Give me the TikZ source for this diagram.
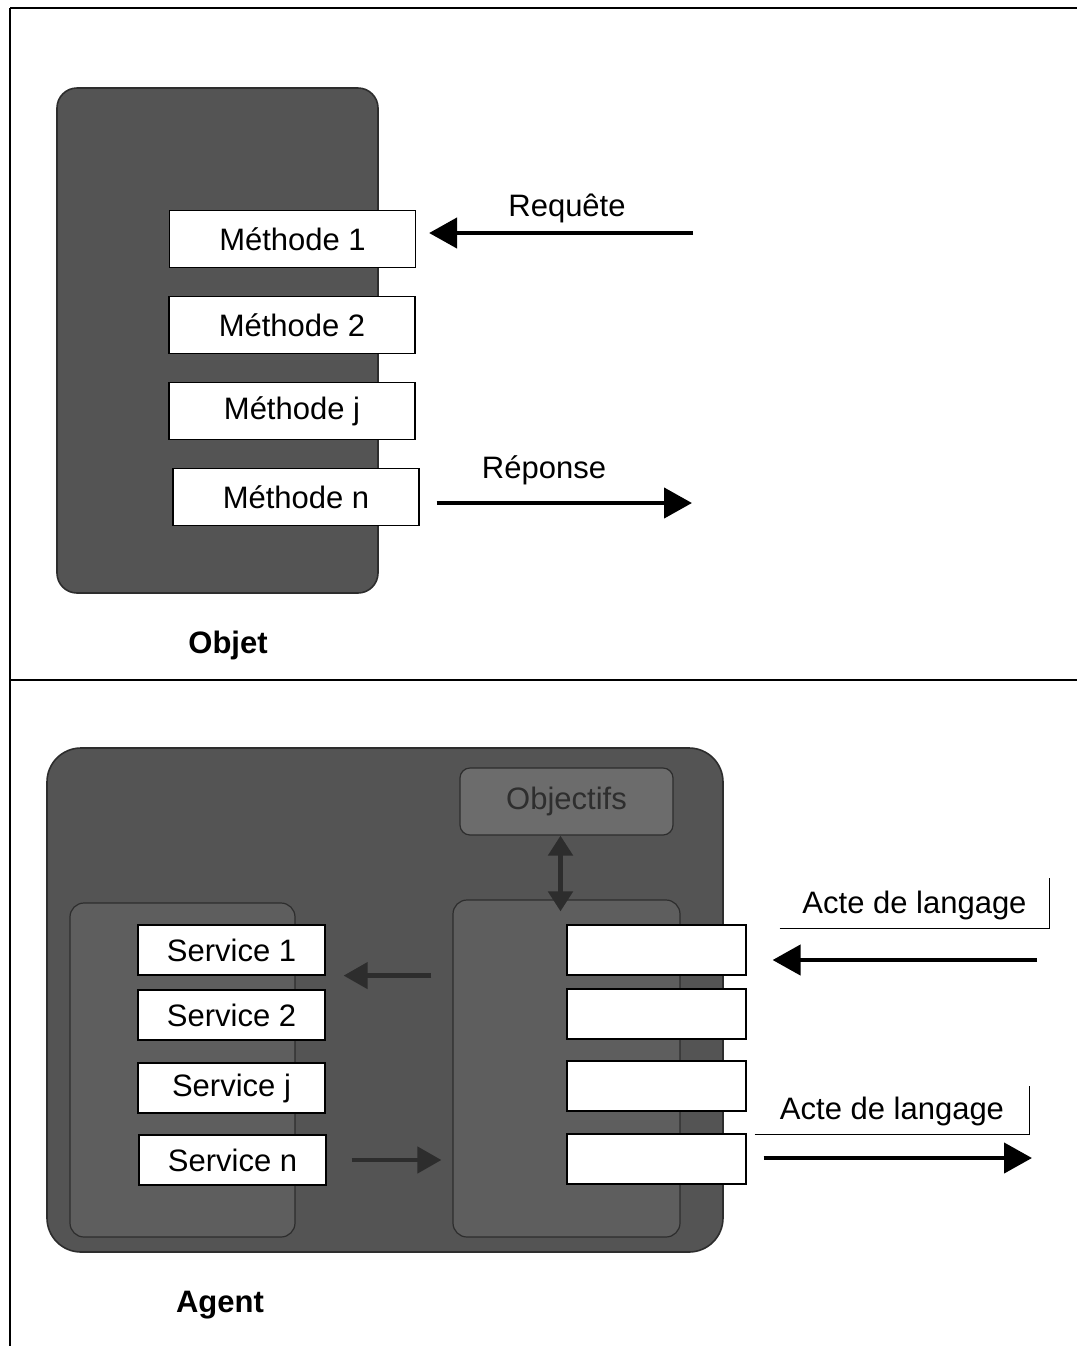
\documentclass[tikz,border=0pt]{standalone}
\usepackage{fontspec}
\setmainfont{Liberation Sans}
\usetikzlibrary{arrows.meta,positioning}

\definecolor{shellgray}{RGB}{84,84,84}
\definecolor{edgegray}{RGB}{45,45,45}
\definecolor{innergray}{RGB}{94,94,94}
\definecolor{goalgray}{RGB}{108,108,108}
\definecolor{linkgray}{RGB}{45,45,45}

\begin{document}
\begin{tikzpicture}[
    x=0.5pt, y=-0.5pt,
    >={Triangle[length=14pt,width=15pt]},
    txt/.style={font=\fontsize{15.5}{18}\selectfont},
    shell/.style={draw=edgegray,fill=shellgray,line width=0.8pt},
    inner/.style={draw=edgegray,fill=innergray,rounded corners=7pt,line width=0.6pt},
    slot/.style={txt,draw=black,fill=white,line width=0.6pt,inner sep=0pt},
    meth/.style={slot,minimum width=123pt,minimum height=28.5pt},
    svc/.style={slot,minimum width=93.5pt,minimum height=25pt},
    port/.style={slot,minimum width=89.5pt,minimum height=25pt},
    bigarrow/.style={->,line width=2.2pt,black},
    inarrow/.style={-{Triangle[length=12pt,width=13pt]},line width=2.2pt,linkgray},
    dblarrow/.style={{Triangle[length=10pt,width=12pt]}-{Triangle[length=10pt,width=12pt]},
                     line width=2.5pt,linkgray},
    callout/.style={txt,inner sep=0pt,minimum width=134.5pt,minimum height=23pt},
  ]
  \useasboundingbox (0,0) rectangle (1077,1346);

  % --- frame: left edge, top edge and the separator between the two halves ---
  \draw[line width=1pt] (10,8) -- (1077,8);
  \draw[line width=1pt] (10,8) -- (10,1346);
  \draw[line width=1.4pt] (10,680) -- (1077,680);

  % --- top half: the object and its methods ---
  \node[shell,rounded corners=10pt,minimum width=160.5pt,minimum height=252.5pt]
    (obj) at (217.5,340.5) {};
  \node[meth] (m1) at (292.5,239) {Méthode 1};
  \node[meth] (m2) at (292,325)   {Méthode 2};
  \node[meth] (mj) at (292,411)   {Méthode j};
  \node[meth] (mn) at (296,497)   {Méthode n};

  \node[txt] (req) at (567,208) {Requête};
  \node[txt] (rep) at (544,470) {Réponse};
  \coordinate (reqstart) at (693,233);
  \coordinate (repend)   at (692,503);
  \draw[bigarrow] (reqstart) -- ([xshift=6.5pt]reqstart -| m1.east);
  \draw[bigarrow] ([xshift=8.5pt]repend -| mn.east) -- (repend);

  \node[txt,font=\fontsize{15.5}{18}\selectfont\bfseries] (objlbl) at (228,645) {Objet};

  % --- bottom half: the agent, its goals, services and message ports ---
  \node[shell,rounded corners=17pt,minimum width=338pt,minimum height=252pt]
    (agent) at (385,1000) {};
  \node[inner,minimum width=112.5pt,minimum height=167pt] (svcbox) at (182.5,1070) {};
  \node[inner,minimum width=113.5pt,minimum height=168.5pt] (core) at (566.5,1068.5) {};
  \node[txt,draw=edgegray,fill=goalgray,text=black!82,rounded corners=5pt,line width=0.6pt,
        minimum width=106.5pt,minimum height=33.5pt,inner sep=0pt]
    (goals) at (566.5,801.5) {Objectifs};

  \node[svc] (s1) at (231.5,950)  {Service 1};
  \node[svc] (s2) at (231.5,1015) {Service 2};
  \node[svc] (sj) at (231.5,1088) {Service j};
  \node[svc] (sn) at (232.5,1160) {Service n};

  \node[port] (p1) at (656.5,950)  {};
  \node[port] (p2) at (656.5,1014) {};
  \node[port] (pj) at (656.5,1086) {};
  \node[port] (pn) at (656.5,1159) {};

  \draw[dblarrow] ([xshift=-3pt]goals.south) -- ([xshift=-3pt,yshift=-6pt]core.north);
  \draw[inarrow] ([xshift=-10.5pt]core.west |- s1.south) -- ([xshift=9pt]s1.south east);
  \draw[inarrow] ([xshift=12.5pt]sn.east) -- ([xshift=-5.5pt]sn.east -| core.west);

  % --- speech acts in and out, with their bracket-like underlines ---
  \node[callout] (actin) at (914.5,905) {Acte de langage};
  \draw[line width=0.6pt] (actin.south west) -- (actin.south east) -- ([yshift=2pt]actin.north east);
  \node[callout,minimum width=137pt] (actout) at (892,1111) {Acte de langage};
  \draw[line width=0.6pt] (actout.south west) -- (actout.south east) -- ([yshift=1pt]actout.north east);

  \coordinate (inend)  at (1037,960);
  \coordinate (outend) at (1032,1158);
  \draw[bigarrow] (inend) -- ([xshift=13pt]inend -| p1.east);
  \draw[bigarrow] ([xshift=8.5pt]outend -| pn.east) -- (outend);

  \node[txt,font=\fontsize{15.5}{18}\selectfont\bfseries] (agentlbl) at (220,1305) {Agent};

\end{tikzpicture}
\end{document}
